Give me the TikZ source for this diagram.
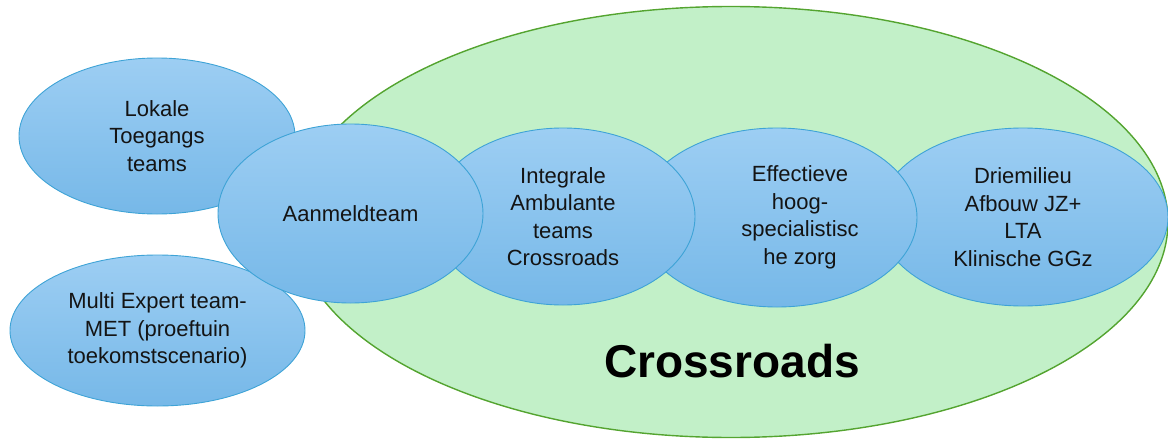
\documentclass[tikz,border=0pt]{standalone}
\usepackage{fontspec}
\setmainfont{Liberation Sans}
\usetikzlibrary{shapes.geometric}
\definecolor{bluetop}{RGB}{157,206,243}
\definecolor{bluebot}{RGB}{118,184,232}
\definecolor{blueline}{RGB}{62,163,214}
\definecolor{greenfill}{RGB}{194,240,200}
\definecolor{greenline}{RGB}{84,164,48}
\definecolor{txt}{RGB}{20,20,20}
\tikzset{
  blob/.style={ellipse, draw=blueline, line width=0.9pt, top color=bluetop, bottom color=bluebot,
    inner sep=0pt, align=center, text=txt, font=\fontsize{22}{27.5}\selectfont},
  blobtext/.style={inner sep=0pt, align=center, text=txt, font=\fontsize{22}{27.5}\selectfont},
  big/.style={ellipse, draw=greenline, line width=1.4pt, fill=greenfill, inner sep=0pt}
}
\begin{document}
\begin{tikzpicture}[x=1pt,y=-1pt]
\useasboundingbox (0,0) rectangle (1168,439);
\node[big, minimum width=874pt, minimum height=431pt] (crossE) at (731,222) {};
\node[blob, minimum width=276pt, minimum height=156pt] (lokale) at (157,136) {Lokale\\Toegangs\\teams};
\node[blob, minimum width=295pt, minimum height=151pt] (met) at (157.5,330.5) {Multi Expert team-\\MET (proeftuin\\toekomstscenario)};
\node[blob, minimum width=290pt, minimum height=178pt] (drie) at (1023,217) {Driemilieu\\Afbouw JZ+\\LTA\\Klinische GGz};
\node[blob, minimum width=280pt, minimum height=179pt] (eff) at (777,217.5) {};
\node[blobtext] (effT) at (800,217.5) {Effectieve\\hoog-\\specialistisc\\he zorg};
\node[blob, minimum width=264pt, minimum height=177pt] (integ) at (563,216.5) {Integrale\\Ambulante\\teams\\Crossroads};
\node[blob, minimum width=265pt, minimum height=179pt] (aanmeld) at (350.5,213.5) {Aanmeldteam};
\node[inner sep=0pt, text=black, font=\fontsize{46}{50}\selectfont\bfseries] (crossT) at (732,361) {Crossroads};
\end{tikzpicture}
\end{document}
